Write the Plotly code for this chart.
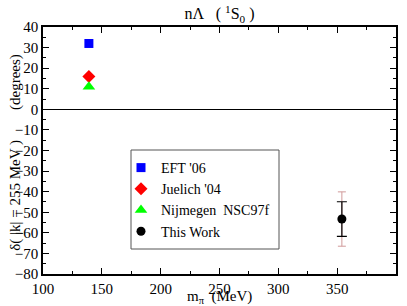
import plotly.graph_objects as go

names = ["EFT '06", "Juelich '04", "Nijmegen  NSC97f"]
mpi = [139, 139, 139]
delta = [32, 16, 11]
colors = ["blue", "red", "#00ff00"]
symbols = ["square", "diamond", "triangle-up"]
sizes = [9, 10, 11]

work_m = [354]
work_d = [-53.3]
work_err_stat = [8.4]
work_err_tot = [13.2]

font = "Liberation Serif, serif"

fig = go.Figure()
for n, x, y, c, s, sz in zip(names, mpi, delta, colors, symbols, sizes):
    fig.add_trace(go.Scatter(x=[x], y=[y], mode="markers", name=n,
                             marker=dict(color=c, symbol=s, size=sz)))
fig.add_trace(go.Scatter(x=work_m, y=work_d, mode="markers", showlegend=False,
                         marker=dict(color="rgba(0,0,0,0)", size=1),
                         error_y=dict(type="data", array=work_err_tot, color="#d09a9a",
                                      thickness=1, width=4)))
fig.add_trace(go.Scatter(x=work_m, y=work_d, mode="markers", name="This Work",
                         marker=dict(color="black", symbol="circle", size=9),
                         error_y=dict(type="data", array=work_err_stat, color="black",
                                      thickness=1.2, width=5)))

axis_common = dict(showline=True, linecolor="black", linewidth=1.5, mirror="allticks",
                   ticks="inside", ticklen=6, tickcolor="black", tickwidth=1,
                   showgrid=False, automargin=False,
                   tickfont=dict(family=font, size=15, color="black"))
fig.update_xaxes(range=[100, 400], dtick=50, tick0=100, zeroline=False,
                 minor=dict(ticks="inside", ticklen=3, dtick=25, tickcolor="black"),
                 **axis_common)
fig.update_yaxes(range=[-80, 40], dtick=10, tick0=0, zeroline=True, zerolinecolor="black",
                 zerolinewidth=1,
                 minor=dict(ticks="inside", ticklen=3, dtick=5, tickcolor="black"),
                 **axis_common)
fig.add_annotation(text="m<sub>π</sub>  (MeV)", xref="paper", yref="paper",
                   x=0.5, y=-0.093, xanchor="center", yanchor="middle", showarrow=False,
                   font=dict(family=font, size=15, color="black"))
fig.add_annotation(text="δ( |k| = 255 MeV )        (degrees)", xref="paper", yref="paper",
                   x=-0.077, y=0.494, xanchor="center", yanchor="middle", showarrow=False,
                   textangle=-90, font=dict(family=font, size=15, color="black"))
# legend frame
fig.add_shape(type="rect", xref="paper", yref="paper",
              x0=(131 - 43) / 353, x1=(279 - 43) / 353,
              y0=1 - (249 - 27) / 247, y1=1 - (150 - 27) / 247,
              line=dict(color="#555555", width=1), fillcolor="white", layer="below")
fig.update_layout(
    width=407, height=306,
    margin=dict(l=43, r=11, t=27, b=32),
    paper_bgcolor="white", plot_bgcolor="white",
    font=dict(family=font, color="black"),
    title=dict(text="nΛ   ( <sup>1</sup>S<sub>0</sub> )", xref="paper", x=0.5, xanchor="center",
               y=0.955, yanchor="middle", font=dict(family=font, size=16, color="black")),
    legend=dict(x=(121 - 43) / 353, y=1 - (152 - 27) / 247, xanchor="left", yanchor="top",
                borderwidth=0, bgcolor="rgba(0,0,0,0)",
                font=dict(family=font, size=14, color="black"),
                tracegroupgap=0, itemsizing="trace", itemwidth=30),
    showlegend=True,
)
fig.write_html("out.html", post_script="document.body.style.margin='0';",
               config={"displayModeBar": False})
